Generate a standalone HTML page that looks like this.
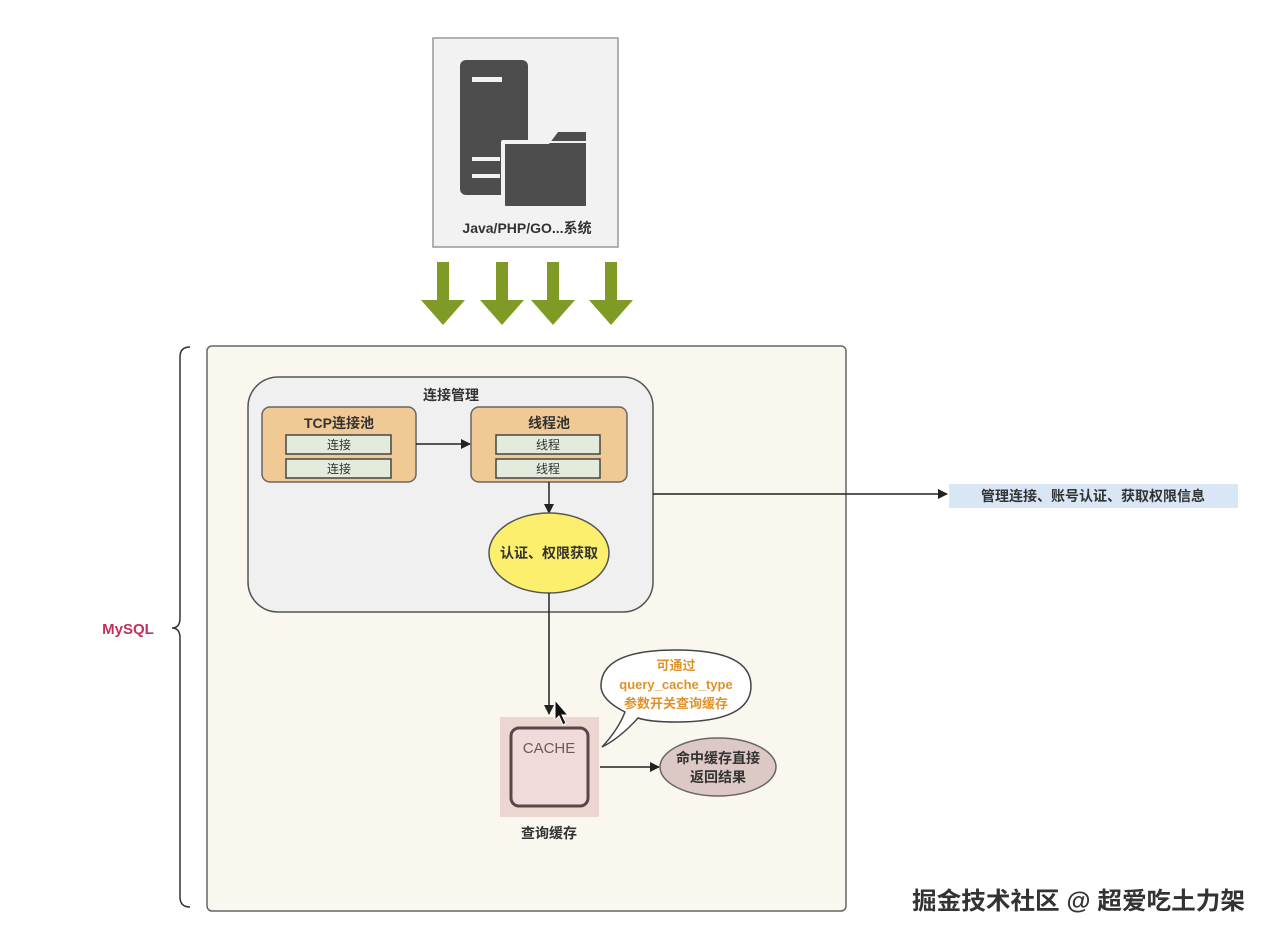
<!DOCTYPE html>
<html><head><meta charset="utf-8"><style>
html,body{margin:0;padding:0;background:#fff;width:1272px;height:940px;overflow:hidden}
svg{display:block}
text{font-family:"Liberation Sans","Noto Sans CJK SC",sans-serif}
</style></head><body>
<svg width="1272" height="940" viewBox="0 0 1272 940" xmlns="http://www.w3.org/2000/svg">
<defs>
<marker id="ah" markerWidth="10" markerHeight="10" refX="9" refY="5" orient="auto" markerUnits="userSpaceOnUse">
<path d="M0,0 L10,5 L0,10 Z" fill="#222"/></marker>
</defs>
<rect x="433" y="38" width="185" height="209" fill="#f2f2f2" stroke="#999" stroke-width="1.5"/>
<rect x="460" y="60" width="68" height="135" rx="6" fill="#4d4d4d"/>
<rect x="472" y="77" width="30" height="5" fill="#f2f2f2"/>
<rect x="472" y="157" width="28" height="4" fill="#f2f2f2"/>
<rect x="472" y="174" width="28" height="4" fill="#f2f2f2"/>
<path d="M503,142 L548,142 L557,130 L586,130 Q588,130 588,133 L588,206 Q588,208 585,208 L506,208 Q503,208 503,205 Z" fill="#4d4d4d" stroke="#f2f2f2" stroke-width="4" stroke-linejoin="round"/>
<line x1="503" y1="142" x2="588" y2="142" stroke="#f2f2f2" stroke-width="2"/>
<text x="527" y="233" font-size="14" font-weight="bold" fill="#333" text-anchor="middle">Java/PHP/GO...系统</text>
<g fill="#7f9a25">
<path d="M437,262 h12 v38 h16 l-22,25 l-22,-25 h16 Z"/>
<path d="M496,262 h12 v38 h16 l-22,25 l-22,-25 h16 Z"/>
<path d="M547,262 h12 v38 h16 l-22,25 l-22,-25 h16 Z"/>
<path d="M605,262 h12 v38 h16 l-22,25 l-22,-25 h16 Z"/>
</g>
<rect x="207" y="346" width="639" height="565" rx="5" fill="#f9f7ee" stroke="#666" stroke-width="1.5"/>
<path d="M190,347 Q180,347 180,357 L180,618 Q180,628 172,628 Q180,628 180,638 L180,897 Q180,907 190,907" fill="none" stroke="#333" stroke-width="1.5"/>
<text x="128" y="634" font-size="15" font-weight="bold" fill="#c0325a" text-anchor="middle">MySQL</text>
<rect x="248" y="377" width="405" height="235" rx="30" fill="#f0f0f0" stroke="#555" stroke-width="1.5"/>
<text x="451" y="400" font-size="14" font-weight="bold" fill="#333" text-anchor="middle">连接管理</text>
<rect x="262" y="407" width="154" height="75" rx="8" fill="#f0c995" stroke="#666" stroke-width="1.5"/>
<text x="339" y="428" font-size="14" font-weight="bold" fill="#333" text-anchor="middle">TCP连接池</text>
<rect x="286" y="435" width="105" height="19" fill="#e3ebdc" stroke="#444" stroke-width="1.5"/>
<rect x="286" y="459" width="105" height="19" fill="#e3ebdc" stroke="#444" stroke-width="1.5"/>
<text x="339" y="449" font-size="12" fill="#333" text-anchor="middle">连接</text>
<text x="339" y="473" font-size="12" fill="#333" text-anchor="middle">连接</text>
<rect x="471" y="407" width="156" height="75" rx="8" fill="#f0c995" stroke="#666" stroke-width="1.5"/>
<text x="549" y="428" font-size="14" font-weight="bold" fill="#333" text-anchor="middle">线程池</text>
<rect x="496" y="435" width="104" height="19" fill="#e3ebdc" stroke="#444" stroke-width="1.5"/>
<rect x="496" y="459" width="104" height="19" fill="#e3ebdc" stroke="#444" stroke-width="1.5"/>
<text x="548" y="449" font-size="12" fill="#333" text-anchor="middle">线程</text>
<text x="548" y="473" font-size="12" fill="#333" text-anchor="middle">线程</text>
<line x1="416" y1="444" x2="470" y2="444" stroke="#222" stroke-width="1.5" marker-end="url(#ah)"/>
<line x1="549" y1="482" x2="549" y2="513" stroke="#222" stroke-width="1.5" marker-end="url(#ah)"/>
<ellipse cx="549" cy="553" rx="60" ry="40" fill="#fcef6d" stroke="#555" stroke-width="1.5"/>
<text x="549" y="558" font-size="14" font-weight="bold" fill="#333" text-anchor="middle">认证、权限获取</text>
<line x1="653" y1="494" x2="947" y2="494" stroke="#222" stroke-width="1.5" marker-end="url(#ah)"/>
<rect x="949" y="484" width="289" height="24" fill="#d8e6f5"/>
<text x="1093" y="501" font-size="14" font-weight="bold" fill="#333" text-anchor="middle">管理连接、账号认证、获取权限信息</text>
<line x1="549" y1="593" x2="549" y2="714" stroke="#222" stroke-width="1.5" marker-end="url(#ah)"/>
<rect x="500" y="717" width="99" height="100" fill="#edd5d2"/>
<rect x="511" y="728" width="77" height="78" rx="8" fill="#f0dada" stroke="#5a4646" stroke-width="3"/>
<text x="549" y="753" font-size="15" fill="#6a5a5a" text-anchor="middle">CACHE</text>
<text x="549" y="838" font-size="14" font-weight="bold" fill="#333" text-anchor="middle">查询缓存</text>
<path d="M555,700 L555,720 L559,716 L563,725 L566,723 L562,715 L568,715 Z" fill="#111" stroke="#fff" stroke-width="1"/>
<line x1="600" y1="767" x2="659" y2="767" stroke="#222" stroke-width="1.5" marker-end="url(#ah)"/>
<ellipse cx="718" cy="767" rx="58" ry="29" fill="#dcc8c4" stroke="#666" stroke-width="1.5"/>
<text x="718" y="763" font-size="14" font-weight="bold" fill="#333" text-anchor="middle">命中缓存直接</text>
<text x="718" y="782" font-size="14" font-weight="bold" fill="#333" text-anchor="middle">返回结果</text>
<path d="M625,712 Q601,700 601,686 Q601,650 676,650 Q751,650 751,686 Q751,722 676,722 Q650,722 638,718 Q620,738 602,747 Q618,730 625,712 Z" fill="#fff" stroke="#444" stroke-width="1.5"/>
<text x="676" y="670" font-size="13" font-weight="bold" fill="#e0922a" text-anchor="middle">可通过</text>
<text x="676" y="689" font-size="13" font-weight="bold" fill="#e0922a" text-anchor="middle">query_cache_type</text>
<text x="676" y="708" font-size="13" font-weight="bold" fill="#e0922a" text-anchor="middle">参数开关查询缓存</text>
<text x="1245" y="909" font-size="24" font-weight="bold" fill="#333" stroke="#fff" stroke-width="3" paint-order="stroke" text-anchor="end" textLength="333" lengthAdjust="spacingAndGlyphs">掘金技术社区 @ 超爱吃土力架</text>
</svg>
</body></html>
